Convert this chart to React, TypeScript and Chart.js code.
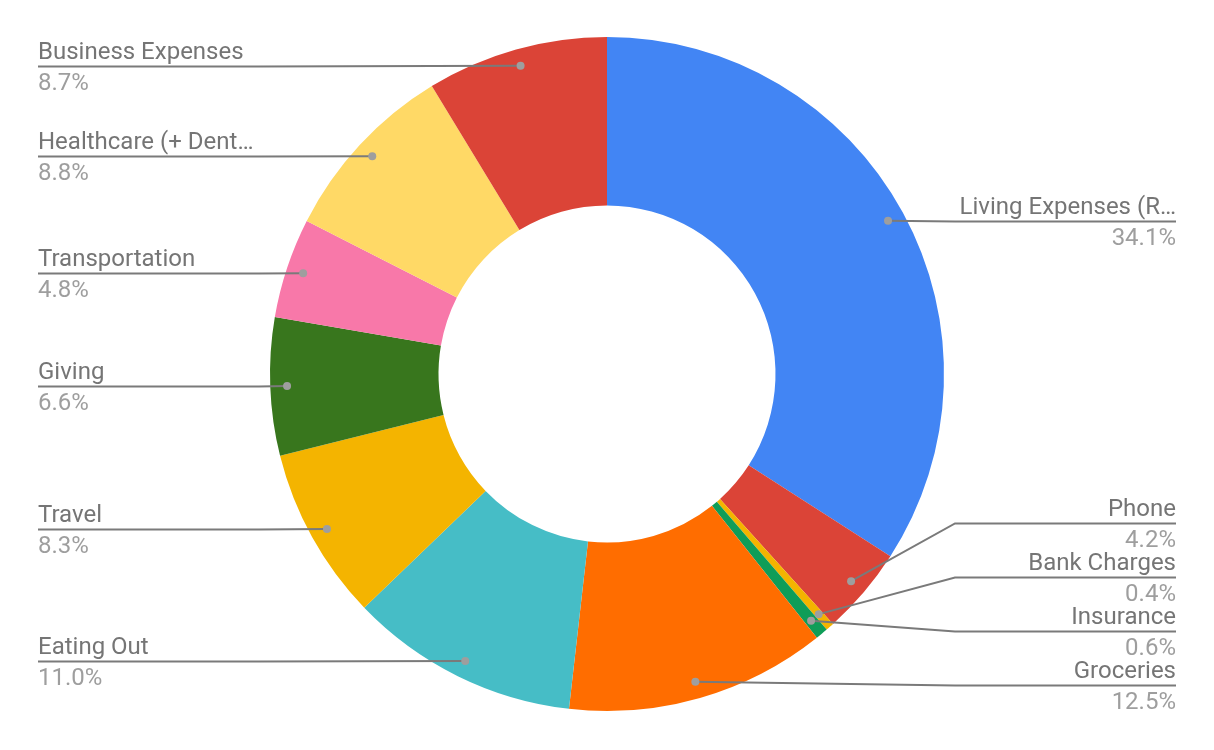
import React, { useEffect, useRef } from "react";
import { Chart, registerables } from "chart.js";

Chart.register(...registerables);

const categories = [
  "Living Expenses (R…",
  "Phone",
  "Bank Charges",
  "Insurance",
  "Groceries",
  "Eating Out",
  "Travel",
  "Giving",
  "Transportation",
  "Healthcare (+ Dent…",
  "Business Expenses",
];

const values = [34.1, 4.2, 0.4, 0.6, 12.5, 11.0, 8.3, 6.6, 4.8, 8.8, 8.7];

const colors = [
  "#4285F4",
  "#DB4437",
  "#F4B400",
  "#0F9D58",
  "#FF6D00",
  "#46BDC6",
  "#F4B400",
  "#38761D",
  "#F878A9",
  "#FFD966",
  "#DB4437",
];

const LEFT_X = 38;
const RIGHT_X = 1176;
const RIGHT_ELBOW = 955;
const LEFT_ELBOW = 259;
const SPACING = 54;
const BOTTOM_LIMIT = 685;
const TOP_LIMIT = 66;
const DOT_RATIO = 0.95;

const labelPlugin = {
  id: "leaderLabels",
  afterDraw(chart: any) {
    const ctx = chart.ctx;
    const meta = chart.getDatasetMeta(0);
    const total = values.reduce((a, b) => a + b, 0);
    const items: any[] = [];
    meta.data.forEach((arc: any, i: number) => {
      const mid = (arc.startAngle + arc.endAngle) / 2;
      const r = arc.outerRadius * DOT_RATIO;
      const px = arc.x + Math.cos(mid) * r;
      const py = arc.y + Math.sin(mid) * r;
      items.push({
        i,
        px,
        py,
        right: Math.cos(mid) >= 0,
        y: py,
        pct: ((values[i] / total) * 100).toFixed(1) + "%",
      });
    });
    const resolve = (list: any[]) => {
      list.sort((a, b) => a.py - b.py);
      for (let k = 0; k < list.length; k++) {
        list[k].y = Math.max(list[k].py, TOP_LIMIT);
        if (k > 0) list[k].y = Math.max(list[k].y, list[k - 1].y + SPACING);
      }
      for (let k = list.length - 1; k >= 0; k--) {
        if (k === list.length - 1) list[k].y = Math.min(list[k].y, BOTTOM_LIMIT);
        else list[k].y = Math.min(list[k].y, list[k + 1].y - SPACING);
      }
    };
    const rights = items.filter((d) => d.right);
    const lefts = items.filter((d) => !d.right);
    resolve(rights);
    resolve(lefts);

    ctx.save();
    for (const d of items) {
      const ly = Math.round(d.y) + 0.5;
      ctx.strokeStyle = "#7a7a7a";
      ctx.lineWidth = 2;
      ctx.beginPath();
      ctx.moveTo(d.px, d.py);
      if (d.right) {
        const ex = Math.max(d.px, RIGHT_ELBOW);
        ctx.lineTo(ex, ly);
        ctx.lineTo(RIGHT_X, ly);
      } else {
        const ex = Math.min(d.px, LEFT_ELBOW);
        ctx.lineTo(ex, ly);
        ctx.lineTo(LEFT_X, ly);
      }
      ctx.stroke();

      ctx.fillStyle = "#9e9e9e";
      ctx.beginPath();
      ctx.arc(d.px, d.py, 4, 0, Math.PI * 2);
      ctx.fill();

      ctx.font = "24px Roboto";
      ctx.textBaseline = "alphabetic";
      ctx.textAlign = d.right ? "right" : "left";
      const tx = d.right ? RIGHT_X : LEFT_X;
      ctx.fillStyle = "#757575";
      ctx.fillText(categories[d.i], tx, ly - 8);
      ctx.fillStyle = "#9e9e9e";
      ctx.fillText(d.pct, tx, ly + 23);
    }
    ctx.restore();
  },
};

export default function App() {
  const ref = useRef<HTMLCanvasElement | null>(null);
  useEffect(() => {
    if (!ref.current) return;
    const chart = new Chart(ref.current, {
      type: "doughnut",
      data: {
        labels: categories,
        datasets: [
          {
            data: values,
            backgroundColor: colors,
            borderWidth: 0,
          },
        ],
      },
      options: {
        responsive: false,
        animation: false,
        cutout: "50%",
        layout: { padding: { top: 37, bottom: 39, left: 270, right: 270 } },
        plugins: {
          legend: { display: false },
          tooltip: { enabled: false },
        },
      },
      plugins: [labelPlugin],
    });
    return () => chart.destroy();
  }, []);
  return (
    <div style={{ position: "absolute", left: 0, top: 0, width: 1214, height: 750, background: "#fff" }}>
      <canvas ref={ref} width={1214} height={750} />
    </div>
  );
}
